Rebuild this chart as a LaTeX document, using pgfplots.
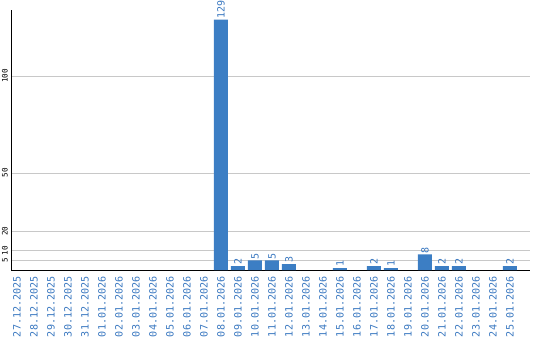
\documentclass[border=0pt]{standalone}
\usepackage{fontspec}
\setmainfont{DejaVu Sans}
\setmonofont{DejaVu Sans Mono}
\usepackage{pgfplots}
\pgfplotsset{compat=1.18}
\definecolor{barblue}{HTML}{3C7EC4}
\definecolor{txtblue}{HTML}{3A78C0}
\definecolor{gridgray}{HTML}{C8C8C8}
\begin{document}
\begin{tikzpicture}
\useasboundingbox (0,0) rectangle (540pt,340pt);
\begin{axis}[
  at={(11pt,70pt)}, anchor=south west,
  scale only axis, width=519pt, height=260pt,
  ymin=0, ymax=134,
  xmin=-0.35, xmax=30.18,
  axis x line*=bottom, axis y line*=left,
  axis line style={-, black, line width=0.8pt},
  ytick={5,10,20,50,100},
  ymajorgrids, major grid style={gridgray, line width=0.8pt},
  major tick length=0pt,
  xtick={0,...,29},
  xticklabels={27.12.2025,28.12.2025,29.12.2025,30.12.2025,31.12.2025,01.01.2026,02.01.2026,03.01.2026,04.01.2026,05.01.2026,06.01.2026,07.01.2026,08.01.2026,09.01.2026,10.01.2026,11.01.2026,12.01.2026,13.01.2026,14.01.2026,15.01.2026,16.01.2026,17.01.2026,18.01.2026,19.01.2026,20.01.2026,21.01.2026,22.01.2026,23.01.2026,24.01.2026,25.01.2026},
  xticklabel style={rotate=90, anchor=east, font=\ttfamily\fontsize{10.1}{12}\selectfont, text=txtblue, inner sep=0pt},
  xticklabel shift=6pt,
  yticklabel style={rotate=90, anchor=south, font=\ttfamily\fontsize{7.6}{9}\selectfont, text=black, inner sep=0pt},
  yticklabel shift=3pt,
  /pgf/number format/assume math mode=true,
  ybar, bar width=14pt,
  nodes near coords,
  every node near coord/.append style={rotate=90, anchor=west, font=\ttfamily\fontsize{10}{12}\selectfont, text=txtblue, inner sep=1pt},
  clip=false,
]
\addplot[fill=barblue, draw=none] coordinates {
(12,129) (13,2) (14,5) (15,5) (16,3) (19,1) (21,2) (22,1) (24,8) (25,2) (26,2) (29,2)
};
\end{axis}
\end{tikzpicture}
\end{document}
